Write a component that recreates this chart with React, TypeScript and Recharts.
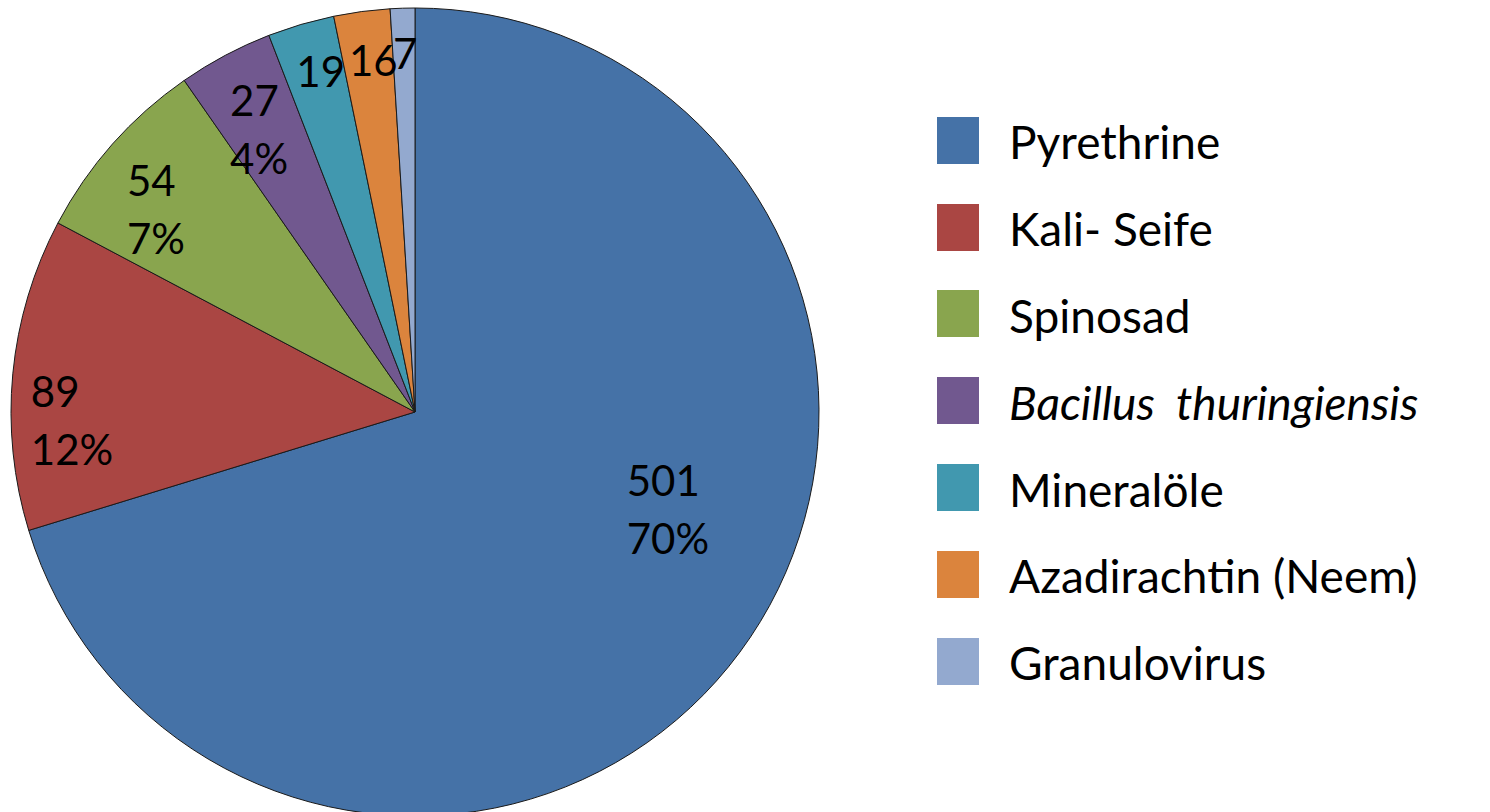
import React from "react";
import { PieChart, Pie, Cell, Legend } from "recharts";

const names = [
  "Pyrethrine",
  "Kali- Seife",
  "Spinosad",
  "Bacillus  thuringiensis",
  "Mineralöle",
  "Azadirachtin (Neem)",
  "Granulovirus",
];
const values = [501, 89, 54, 27, 19, 16, 7];
// percentages as printed in the original (only the larger slices show one)
const percentLabels = ["70%", "12%", "7%", "4%", "", "", ""];
const colors = ["#4572A7", "#AA4643", "#89A54E", "#71588F", "#4198AF", "#DB843D", "#93A9CF"];
const italicNames = ["Bacillus  thuringiensis"];

const data = names.map((name, i) => ({ name, value: values[i], pct: percentLabels[i] }));

const FONT = "Lato, 'Open Sans', sans-serif";
const LABEL_SIZE = 42;
const RAD = Math.PI / 180;

// label placement tweaks (radius fraction, angle shift) to follow the original layout
const labelPlace = [
  { r: 0.666, da: 15.1 },
  { r: 0.855, da: 6.9 },
  { r: 0.818, da: 3.8 },
  { r: 0.8, da: 1.3 },
  { r: 0.873, da: -0.9 },
  { r: 0.875, da: -0.8 },
  { r: 0.886, da: -0.2 },
];

// rough text width for left-aligned two-line labels
const textWidth = (s: string) =>
  s.split("").reduce((w, c) => w + (c === "%" ? 0.69 : 0.58) * LABEL_SIZE, 0);

const renderLabel = (props: any) => {
  const { cx, cy, midAngle, outerRadius, index, value } = props;
  const p = labelPlace[index];
  const a = (midAngle + p.da) * RAD;
  const x = cx + outerRadius * p.r * Math.cos(a);
  const y = cy - outerRadius * p.r * Math.sin(a);
  const pct = data[index].pct;
  if (!pct) {
    return (
      <text x={x} y={y + 15} textAnchor="middle" fontFamily={FONT} fontSize={LABEL_SIZE} fill="#000">
        {value}
      </text>
    );
  }
  const w = Math.max(textWidth(String(value)), textWidth(pct));
  const left = x - w / 2;
  return (
    <text x={left} y={y - 14} textAnchor="start" fontFamily={FONT} fontSize={LABEL_SIZE} fill="#000">
      <tspan x={left}>{value}</tspan>
      <tspan x={left} dy={58}>{pct}</tspan>
    </text>
  );
};

const renderLegend = () => (
  <div style={{ fontFamily: FONT }}>
    {data.map((d, i) => (
      <div key={d.name} style={{ display: "flex", alignItems: "center", height: 86.8 }}>
        <div style={{ width: 42, height: 47, background: colors[i], flex: "none" }} />
        <span
          style={{
            marginLeft: 30,
            fontSize: 46,
            lineHeight: 1,
            color: "#000",
            whiteSpace: "pre",
            position: "relative",
            top: 2,
            fontStyle: italicNames.includes(d.name) ? "italic" : "normal",
          }}
        >
          {d.name}
        </span>
      </div>
    ))}
  </div>
);

export default function App() {
  return (
    <div style={{ position: "absolute", left: 0, top: 0, width: 1490, height: 812, background: "#fff" }}>
      <PieChart width={1490} height={812} margin={{ top: 0, right: 0, bottom: 0, left: 0 }}>
        <Pie
          data={data}
          dataKey="value"
          nameKey="name"
          cx={415}
          cy={412}
          outerRadius={404}
          startAngle={90}
          endAngle={-270}
          stroke="#1a1a1a"
          strokeWidth={1}
          label={renderLabel}
          labelLine={false}
          isAnimationActive={false}
        >
          {data.map((d, i) => (
            <Cell key={d.name} fill={colors[i]} />
          ))}
        </Pie>
        <Legend
          layout="vertical"
          align="right"
          verticalAlign="top"
          wrapperStyle={{ left: 937, top: 97, width: 553 }}
          content={renderLegend}
        />
      </PieChart>
    </div>
  );
}
